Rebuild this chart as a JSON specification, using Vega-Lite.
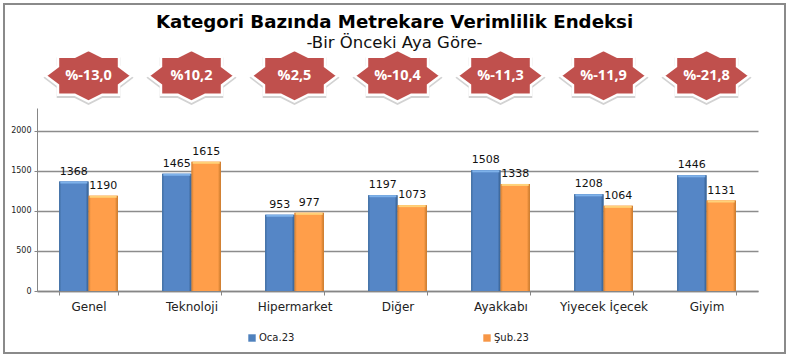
{
"$schema":"https://vega.github.io/schema/vega-lite/v6.json",
"width":721,"height":183,
"autosize":{"type":"none"},
"padding":{"left":37,"top":108,"right":32,"bottom":67},
"background":"#ffffff",
"title":{"text":"Kategori Bazında Metrekare Verimlilik Endeksi","subtitle":"-Bir Önceki Aya Göre-","anchor":"middle","frame":"group","dx":-3,"offset":-49,"font":"DejaVu Sans","fontSize":18.2,"fontWeight":"bold","color":"#000000","subtitleFont":"DejaVu Sans","subtitleFontSize":16.5,"subtitleColor":"#111111","subtitlePadding":2},
"config":{"view":{"stroke":null}},
"datasets":{
"bars":[
{"kategori":"Genel","seri":"Oca.23","deger":1368},{"kategori":"Genel","seri":"Şub.23","deger":1190},
{"kategori":"Teknoloji","seri":"Oca.23","deger":1465},{"kategori":"Teknoloji","seri":"Şub.23","deger":1615},
{"kategori":"Hipermarket","seri":"Oca.23","deger":953},{"kategori":"Hipermarket","seri":"Şub.23","deger":977},
{"kategori":"Diğer","seri":"Oca.23","deger":1197},{"kategori":"Diğer","seri":"Şub.23","deger":1073},
{"kategori":"Ayakkabı","seri":"Oca.23","deger":1508},{"kategori":"Ayakkabı","seri":"Şub.23","deger":1338},
{"kategori":"Yiyecek İçecek","seri":"Oca.23","deger":1208},{"kategori":"Yiyecek İçecek","seri":"Şub.23","deger":1064},
{"kategori":"Giyim","seri":"Oca.23","deger":1446},{"kategori":"Giyim","seri":"Şub.23","deger":1131}],
"stars":[
{"kategori":"Genel","degisim":"%-13,0"},{"kategori":"Teknoloji","degisim":"%10,2"},{"kategori":"Hipermarket","degisim":"%2,5"},{"kategori":"Diğer","degisim":"%-10,4"},{"kategori":"Ayakkabı","degisim":"%-11,3"},{"kategori":"Yiyecek İçecek","degisim":"%-11,9"},{"kategori":"Giyim","degisim":"%-21,8"}],
"frame":[{"a":0,"b":1,"c":0,"d":1}]
},
"resolve":{"scale":{"x":"independent","y":"independent"},"axis":{"x":"independent","y":"independent"}},
"layer":[
{"data":{"name":"frame"},
 "mark":{"type":"rect","fill":"#ffffff","fillOpacity":0,"stroke":"#8a8a8a","strokeWidth":2,"clip":false},
 "encoding":{
  "x":{"field":"a","type":"quantitative","axis":null,"scale":{"domain":[0,1],"range":[-33,748]}},
  "x2":{"field":"b"},
  "y":{"field":"c","type":"quantitative","axis":null,"scale":{"domain":[0,1],"range":[245,-104]}},
  "y2":{"field":"d"}}},
{"encoding":{
  "x":{"field":"kategori","type":"nominal","sort":null,"title":null,
   "scale":{"domain":["Genel","Teknoloji","Hipermarket","Diğer","Ayakkabı","Yiyecek İçecek","Giyim"],"paddingInner":0.43,"paddingOuter":0.215},
   "axis":{"labelAngle":0,"labelFont":"DejaVu Sans","labelFontSize":12,"labelColor":"#222222","labelPadding":6,"tickBand":"extent","tickSize":4,"tickColor":"#868686","domainColor":"#868686","domainWidth":1.5,"tickWidth":1,"grid":false}}},
 "layer":[
 {"data":{"name":"bars"},
  "mark":{"type":"bar"},
  "encoding":{
   "y":{"field":"deger","type":"quantitative","title":null,"scale":{"domain":[0,2287],"nice":false},
     "axis":{"values":[0,500,1000,1500,2000],"format":"d","grid":true,"gridColor":"#8c8c8c","gridWidth":1.5,"labelFont":"DejaVu Sans","labelFontSize":8,"labelColor":"#222222","tickColor":"#868686","tickSize":3,"domainColor":"#868686","domainWidth":1,"labelPadding":3}},
   "xOffset":{"field":"seri","type":"nominal","scale":{"domain":["Oca.23","Şub.23"],"paddingInner":0,"paddingOuter":0}},
   "color":{"field":"seri","type":"nominal","scale":{"domain":["Oca.23","Şub.23"],"range":["#4F81BD","#F79646"]},
     "legend":{"title":null,"orient":"none","legendX":210,"legendY":225,"direction":"horizontal","columns":2,"columnPadding":187,"symbolType":"square","symbolSize":55,"symbolStrokeWidth":0,"labelFont":"DejaVu Sans","labelFontSize":10,"labelColor":"#222222","labelOffset":2}}}},
 {"data":{"name":"bars"},"transform":[{"filter":"datum.seri === 'Oca.23'"}],
  "mark":{"type":"bar","color":{"gradient":"linear","x1":0,"x2":1,"y1":0,"y2":0,"stops":[{"offset":0,"color":"#3F6C9F"},{"offset":0.08,"color":"#5586C6"},{"offset":0.9,"color":"#5586C6"},{"offset":1,"color":"#335C8C"}]}},
  "encoding":{"y":{"field":"deger","type":"quantitative"},
   "xOffset":{"field":"seri","type":"nominal"}}},
 {"data":{"name":"bars"},"transform":[{"filter":"datum.seri === 'Şub.23'"}],
  "mark":{"type":"bar","color":{"gradient":"linear","x1":0,"x2":1,"y1":0,"y2":0,"stops":[{"offset":0,"color":"#D07F32"},{"offset":0.08,"color":"#FF9E4A"},{"offset":0.9,"color":"#FF9E4A"},{"offset":1,"color":"#C47628"}]}},
  "encoding":{"y":{"field":"deger","type":"quantitative"},
   "xOffset":{"field":"seri","type":"nominal"}}},
 {"data":{"name":"bars"},"transform":[{"filter":"datum.seri === 'Oca.23'"}],
  "mark":{"type":"tick","orient":"horizontal","color":"#7FB2EA","opacity":1,"size":27,"thickness":2,"yOffset":1},
  "encoding":{"y":{"field":"deger","type":"quantitative"},"xOffset":{"field":"seri","type":"nominal"}}},
 {"data":{"name":"bars"},"transform":[{"filter":"datum.seri === 'Şub.23'"}],
  "mark":{"type":"tick","orient":"horizontal","color":"#FFD27A","opacity":1,"size":27,"thickness":2,"yOffset":1},
  "encoding":{"y":{"field":"deger","type":"quantitative"},"xOffset":{"field":"seri","type":"nominal"}}},
 {"data":{"name":"bars"},
  "mark":{"type":"text","font":"DejaVu Sans","fontSize":11,"color":"#111111","baseline":"middle","dy":-10},
  "encoding":{"y":{"field":"deger","type":"quantitative"},"xOffset":{"field":"seri","type":"nominal"},"text":{"field":"deger","type":"quantitative","format":"d"}}},
 {"data":{"name":"stars"},
  "mark":{"type":"point","filled":true,"fill":"#a0a0a0","opacity":0.6,"stroke":"#b5b5b5","strokeWidth":2.5,"yOffset":2,"clip":false,"size":7400,"shape":"M0,-0.6 L0.32,-0.44 L0.71,-0.44 L0.71,-0.22 L1,0 L0.71,0.22 L0.71,0.44 L0.32,0.44 L0,0.6 L-0.32,0.44 L-0.71,0.44 L-0.71,0.22 L-1,0 L-0.71,-0.22 L-0.71,-0.44 L-0.32,-0.44 Z"},
  "encoding":{"y":{"datum":2690,"type":"quantitative"}}},
 {"data":{"name":"stars"},
  "mark":{"type":"point","filled":true,"fill":"#C0504D","opacity":1,"stroke":"#ffffff","strokeWidth":2.5,"clip":false,"size":7400,"shape":"M0,-0.6 L0.32,-0.44 L0.71,-0.44 L0.71,-0.22 L1,0 L0.71,0.22 L0.71,0.44 L0.32,0.44 L0,0.6 L-0.32,0.44 L-0.71,0.44 L-0.71,0.22 L-1,0 L-0.71,-0.22 L-0.71,-0.44 L-0.32,-0.44 Z"},
  "encoding":{"y":{"datum":2690,"type":"quantitative"}}},
 {"data":{"name":"stars"},
  "mark":{"type":"text","font":"Open Sans","fontSize":14.5,"fontWeight":"bold","color":"#ffffff","baseline":"middle"},
  "encoding":{"y":{"datum":2690,"type":"quantitative"},"text":{"field":"degisim","type":"nominal"}}}
 ]}
]}
